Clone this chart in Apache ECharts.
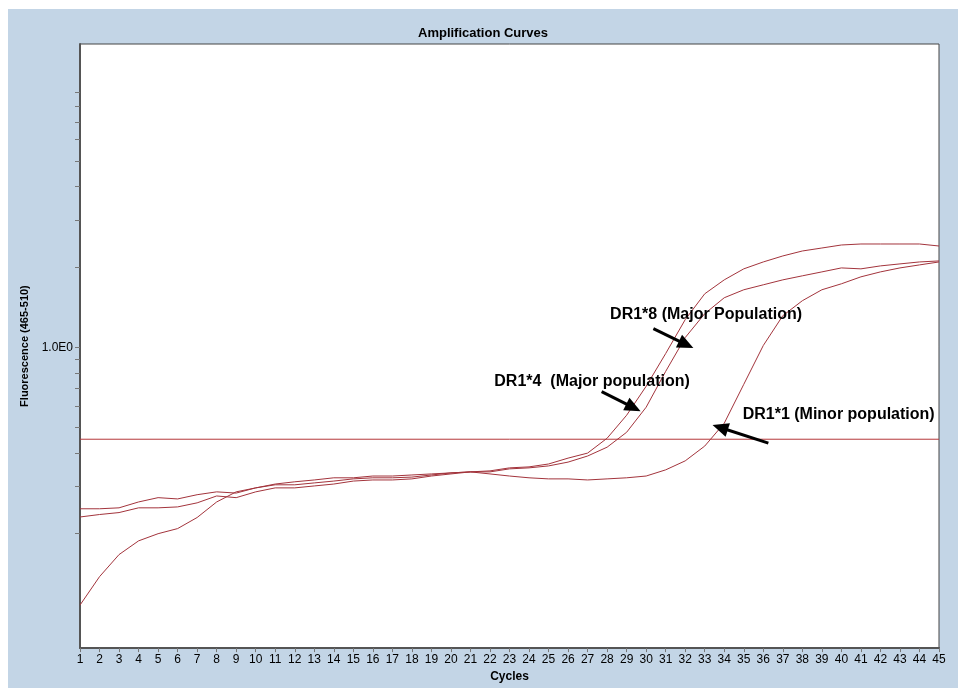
<!DOCTYPE html>
<html>
<head>
<meta charset="utf-8">
<title>Amplification Curves</title>
<script src="https://cdn.jsdelivr.net/npm/echarts@6.0.0/dist/echarts.min.js"></script>
<style>
  html, body { margin: 0; padding: 0; background: #fff; }
  #chart { position: absolute; left: 8px; top: 9px; width: 950px; height: 679px; }
</style>
</head>
<body>
<div id="chart"></div>
<script>
// cycles 1..45
var cycles = [];
for (var c = 1; c <= 45; c++) cycles.push(c);

// fluorescence (log axis)
var dr1_1 = [0.108, 0.138, 0.167, 0.188, 0.200, 0.209, 0.230, 0.263, 0.287, 0.297,
             0.305, 0.305, 0.310, 0.315, 0.321, 0.324, 0.324, 0.326, 0.332, 0.338,
             0.341, 0.335, 0.329, 0.324, 0.321, 0.321, 0.318, 0.321, 0.324, 0.329,
             0.347, 0.375, 0.426, 0.519, 0.726, 1.015, 1.313, 1.494, 1.642, 1.729,
             1.836, 1.916, 1.983, 2.035, 2.088];
var dr1_4 = [0.248, 0.248, 0.250, 0.263, 0.273, 0.270, 0.280, 0.287, 0.284, 0.297,
             0.307, 0.313, 0.318, 0.324, 0.324, 0.329, 0.329, 0.332, 0.335, 0.338,
             0.341, 0.344, 0.353, 0.356, 0.365, 0.384, 0.401, 0.456, 0.556, 0.714,
             0.947, 1.269, 1.586, 1.789, 1.967, 2.088, 2.199, 2.295, 2.355, 2.417,
             2.438, 2.438, 2.438, 2.438, 2.396];
var dr1_8 = [0.231, 0.236, 0.240, 0.250, 0.250, 0.252, 0.261, 0.277, 0.273, 0.287,
             0.297, 0.297, 0.302, 0.307, 0.315, 0.318, 0.318, 0.321, 0.329, 0.335,
             0.341, 0.341, 0.350, 0.353, 0.359, 0.371, 0.391, 0.422, 0.480, 0.596,
             0.812, 1.087, 1.336, 1.533, 1.642, 1.714, 1.789, 1.852, 1.916, 1.983,
             1.967, 2.018, 2.053, 2.088, 2.106];
var thresholdValue = 0.452;

var yTickValues = [0.2, 0.3, 0.4, 0.5, 0.6, 0.7, 0.8, 0.9, 1, 2, 3, 4, 5, 6, 7, 8, 9];
var yLabelValues = [1];

// annotations: text anchor and arrow (cycle, fluorescence)
var noteTexts = ['DR1*8 (Major Population)', 'DR1*4  (Major population)', 'DR1*1 (Minor population)'];
var noteAt = [[33.07, 1.324], [27.23, 0.745], [39.86, 0.561]];
var arrowFrom = [[30.37, 1.174], [27.72, 0.682], [36.26, 0.437]];
var arrowTo = [[32.05, 1.023], [29.35, 0.594], [33.79, 0.500]];

function pairs(vals) {
  return cycles.map(function (c, i) { return [c, vals[i]]; });
}

var lineColor = '#a3343c';
var chart = echarts.init(document.getElementById('chart'));

chart.setOption({
  animation: false,
  backgroundColor: '#c3d5e6',
  textStyle: { fontFamily: 'Liberation Sans, Arial, sans-serif' },
  title: {
    text: 'Amplification Curves',
    left: 470,
    textAlign: 'center',
    top: 13,
    textStyle: { fontSize: 13, fontWeight: 'bold', color: '#000' }
  },
  grid: {
    left: 72, top: 35, right: 19, bottom: 37,
    show: true, backgroundColor: '#fff', borderColor: '#444', borderWidth: 1
  },
  xAxis: {
    type: 'value', min: 1, max: 45, interval: 1,
    name: 'Cycles', nameLocation: 'middle', nameGap: 20,
    nameTextStyle: { fontSize: 12, fontWeight: 'bold', color: '#000' },
    axisLine: { lineStyle: { color: '#555', width: 2 } },
    axisTick: { length: 4, lineStyle: { color: '#777' } },
    axisLabel: { color: '#000', fontSize: 12, margin: 6 },
    splitLine: { show: false }
  },
  yAxis: {
    type: 'log', logBase: 10, min: 0.0745, max: 13.7,
    name: 'Fluorescence (465-510)', nameLocation: 'middle', nameGap: 48,
    nameTextStyle: { fontSize: 11, fontWeight: 'bold', color: '#000' },
    axisLine: { show: true, lineStyle: { color: '#555', width: 2 } },
    axisTick: { show: true, length: 5, customValues: yTickValues, lineStyle: { color: '#777' } },
    axisLabel: {
      color: '#000', fontSize: 12, margin: 7, customValues: yLabelValues,
      formatter: function (v) { return Number(v).toExponential(1).replace('e+', 'E').replace('e-', 'E-'); }
    },
    splitLine: { show: false },
    minorTick: { show: false }
  },
  series: [
    {
      name: 'Threshold', type: 'line', showSymbol: false, silent: true,
      data: [[cycles[0], thresholdValue], [cycles[cycles.length - 1], thresholdValue]],
      lineStyle: { color: '#b5363a', width: 1 }
    },
    { name: 'DR1*1', type: 'line', data: pairs(dr1_1), showSymbol: false, lineStyle: { color: lineColor, width: 1 } },
    {
      name: 'DR1*4', type: 'line', data: pairs(dr1_4), showSymbol: false,
      lineStyle: { color: lineColor, width: 1 },
      markLine: {
        silent: true, symbol: ['none', 'triangle'], symbolSize: [14, 16],
        lineStyle: { color: '#000', width: 3, type: 'solid' },
        label: { show: false },
        data: arrowFrom.map(function (p, i) {
          return [{ coord: p }, { coord: arrowTo[i] }];
        })
      }
    },
    {
      name: 'DR1*8', type: 'line', data: pairs(dr1_8), showSymbol: false,
      lineStyle: { color: lineColor, width: 1 },
      markPoint: {
        symbol: 'circle', symbolSize: 0, silent: true,
        label: { show: true, position: 'inside', color: '#000', fontSize: 16, fontWeight: 'bold' },
        data: noteTexts.map(function (t, i) {
          return { coord: noteAt[i], value: t, label: { formatter: t } };
        })
      }
    }
  ]
});
</script>
</body>
</html>
